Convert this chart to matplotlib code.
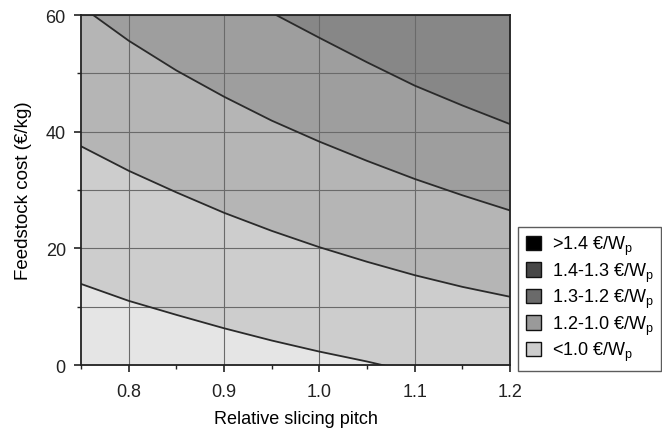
import numpy as np
from matplotlib import pyplot as plt
from matplotlib.patches import Patch
from matplotlib.ticker import MultipleLocator

# relative slicing pitch sample points
pitch = [0.75, 0.80, 0.85, 0.90, 0.95, 1.00, 1.05, 1.10, 1.15, 1.20]

# feedstock cost (EUR/kg) at the iso-cost boundaries
bound_10 = [13.9, 11.0, 8.6, 6.3, 4.2, 2.3, 0.6, -1.3, -3.0, -4.6]
bound_12 = [37.5, 33.3, 29.6, 26.1, 23.0, 20.2, 17.7, 15.4, 13.4, 11.7]
bound_13 = [61.5, 55.6, 50.5, 46.0, 41.9, 38.3, 35.0, 31.9, 29.1, 26.5]
bound_14 = [76.0, 72.0, 68.5, 65.0, 60.4, 56.1, 51.9, 47.9, 44.5, 41.3]

legend_labels = [">1.4 €/W$_{\\rm p}$", "1.4-1.3 €/W$_{\\rm p}$",
                 "1.3-1.2 €/W$_{\\rm p}$", "1.2-1.0 €/W$_{\\rm p}$",
                 "<1.0 €/W$_{\\rm p}$"]
legend_colors = ["#000000", "#474747", "#6a6a6a", "#9a9a9a", "#cdcdcd"]
fill_colors = ["#e5e5e5", "#cdcdcd", "#b5b5b5", "#9e9e9e", "#878787"]

plt.rcParams["font.family"] = ["Liberation Sans", "DejaVu Sans"]
plt.rcParams["mathtext.fontset"] = "custom"
plt.rcParams["mathtext.rm"] = "Liberation Sans"

fig = plt.figure(figsize=(6.62, 4.31), dpi=100)
ax = fig.add_axes([0.1224, 0.1508, 0.648, 0.812])

x = np.array(pitch)
bounds = [np.full(len(x), -10.0), np.array(bound_10), np.array(bound_12),
          np.array(bound_13), np.array(bound_14), np.full(len(x), 100.0)]
for i in range(5):
    ax.fill_between(x, bounds[i], bounds[i + 1], color=fill_colors[i],
                    linewidth=0, zorder=1)
for b in bounds[1:5]:
    ax.plot(x, b, color="#2a2a2a", linewidth=1.3, zorder=3)

ax.set_xlim(0.75, 1.2)
ax.set_ylim(0, 60)
ax.xaxis.set_minor_locator(MultipleLocator(0.05))
ax.yaxis.set_major_locator(MultipleLocator(20))
ax.yaxis.set_minor_locator(MultipleLocator(10))
ax.set_xticks([0.8, 0.9, 1.0, 1.1, 1.2])
ax.set_xticklabels(["0.8", "0.9", "1.0", "1.1", "1.2"])
ax.tick_params(which="major", direction="out", length=5, width=1.2,
               labelsize=13, colors="#222222")
ax.tick_params(axis="x", which="major", pad=8)
ax.tick_params(axis="y", which="major", pad=6)
ax.tick_params(which="minor", direction="out", length=3, width=1.0,
               colors="#222222")
ax.set_axisbelow(False)
ax.grid(True, axis="x", which="major", color="#6a6a6a", linewidth=0.8, zorder=2)
ax.grid(True, axis="y", which="both", color="#6a6a6a", linewidth=0.8, zorder=2)
for s in ax.spines.values():
    s.set_color("#222222")
    s.set_linewidth(1.3)
    s.set_zorder(4)

ax.set_xlabel("Relative slicing pitch", fontsize=13, labelpad=7)
ax.set_ylabel("Feedstock cost (€/kg)", fontsize=13.5, labelpad=10)

handles = [Patch(facecolor=c, edgecolor="#111111", linewidth=1.0)
           for c in legend_colors]
leg = fig.legend(handles, legend_labels, loc="upper left",
                 bbox_to_anchor=(0.7825, 0.472), fontsize=13,
                 frameon=True, fancybox=False, edgecolor="#333333",
                 handlelength=0.85, handleheight=0.85, handletextpad=0.6,
                 labelspacing=0.18, borderpad=0.42, borderaxespad=0)
leg.get_frame().set_linewidth(1.0)

fig.savefig("out.png", dpi=100)
